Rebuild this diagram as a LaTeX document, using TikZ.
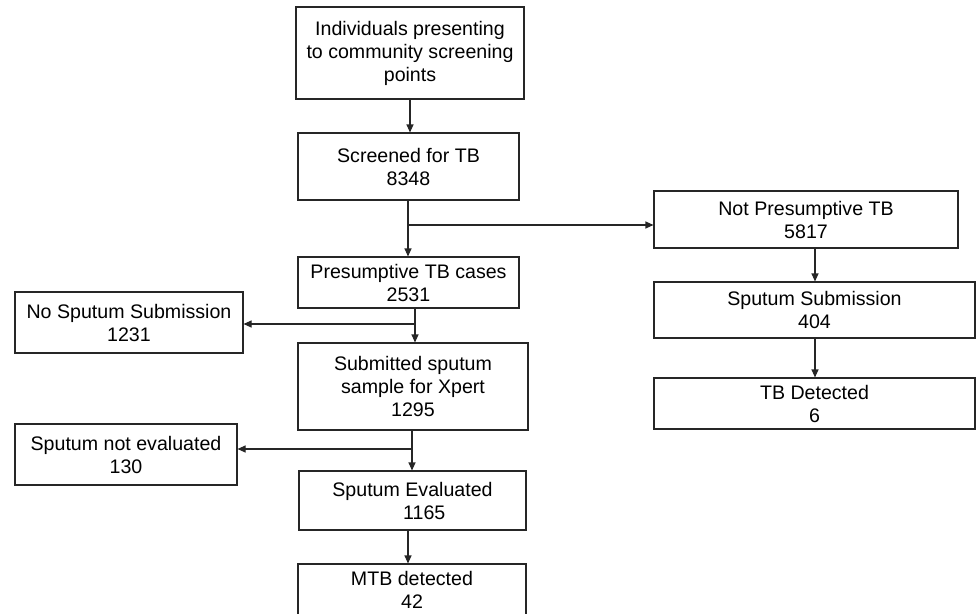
\documentclass[tikz,border=0pt]{standalone}
\usepackage{fontspec}
\setmainfont{Liberation Sans}
\usetikzlibrary{arrows.meta}

\tikzset{
  box/.style={draw=black!85, line width=1.1pt, align=center, inner sep=1pt,
    font=\fontsize{19.6}{23}\selectfont},
  arr/.style={draw=black!85, line width=1.1pt, -{Triangle[length=8pt,width=7pt]}}
}

\begin{document}
\begin{tikzpicture}[x=1pt,y=-1pt]
    \useasboundingbox (0,0) rectangle (977,613);
    % main column
    \node [box, minimum width=228pt, minimum height=92pt] (indiv) at (410,53) {Individuals presenting\\to community screening\\points};
    \node [box, minimum width=221pt, minimum height=67pt] (screened) at (408.5,166.5) {Screened for TB\\8348};
    \node [box, minimum width=221pt, minimum height=51pt] (presump) at (408.5,282.5) {Presumptive TB cases\\2531};
    \node [box, minimum width=230pt, minimum height=87pt] (submit) at (413,386.5) {Submitted sputum\\sample for Xpert\\1295};
    \node [box, minimum width=227pt, minimum height=59pt] (evald) at (412.5,500.5) {Sputum Evaluated\\\hspace{1.2em}1165};
    \node [box, minimum width=228pt, minimum height=52pt] (mtb) at (412,590) {MTB detected\\42};
    % left side
    \node [box, minimum width=228pt, minimum height=61pt] (nosput) at (129,322.5) {No Sputum Submission\\1231};
    \node [box, minimum width=222pt, minimum height=61pt] (notevl) at (126,454.5) {Sputum not evaluated\\130};
    % right side
    \node [box, minimum width=304pt, minimum height=57pt] (notpres) at (806,219.5) {Not Presumptive TB\\5817};
    \node [box, minimum width=321pt, minimum height=56pt] (sputsub) at (814.5,310) {Sputum Submission\\404};
    \node [box, minimum width=321pt, minimum height=51pt] (tbdet) at (814.5,403.5) {TB Detected\\6};
    % branch points
    \coordinate (b1) at (408,225);
    \coordinate (b2) at (415,324);
    \coordinate (b3) at (412,449);

    \draw [arr] (indiv.south -| 410,0) -- (screened.north -| 410,0);
    \draw [arr] (screened.south -| b1) -- (presump.north -| b1);
    \draw [arr] (b1) -- (notpres.west |- b1);
    \draw [arr] (presump.south -| b2) -- (submit.north -| b2);
    \draw [arr] (b2) -- (nosput.east |- b2);
    \draw [arr] (submit.south -| b3) -- (evald.north -| b3);
    \draw [arr] (b3) -- (notevl.east |- b3);
    \draw [arr] (evald.south -| 408,0) -- (mtb.north -| 408,0);
    \draw [arr] (notpres.south -| 815,0) -- (sputsub.north -| 815,0);
    \draw [arr] (sputsub.south -| 815,0) -- (tbdet.north -| 815,0);
\end{tikzpicture}
\end{document}
